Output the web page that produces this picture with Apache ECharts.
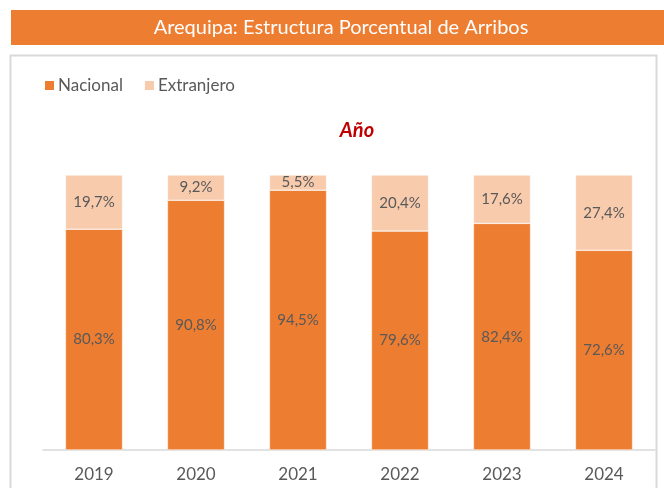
<!DOCTYPE html>
<html>
<head>
<meta charset="utf-8">
<script src="https://cdn.jsdelivr.net/npm/echarts@6/dist/echarts.min.js"></script>
<style>
  html, body { margin: 0; padding: 0; background: #fff; }
  #chart { width: 664px; height: 488px; }
</style>
</head>
<body>
<div id="chart"></div>
<script>
const years = ['2019', '2020', '2021', '2022', '2023', '2024'];
const nacional = [80.3, 90.8, 94.5, 79.6, 82.4, 72.6];
const extranjero = [19.7, 9.2, 5.5, 20.4, 17.6, 27.4];

const font = 'Lato, "Open Sans", sans-serif';
const textColor = '#595959';
const fmt = (p) => p.value.toFixed(1).replace('.', ',') + '%';

const chart = echarts.init(document.getElementById('chart'));
chart.setOption({
  animation: false,
  graphic: [
    { type: 'rect', shape: { x: 11, y: 10, width: 653, height: 35 }, style: { fill: '#ED7D31' }, z: -1 },
    { type: 'rect', shape: { x: 10.5, y: 55.5, width: 646, height: 450 }, style: { fill: 'none', stroke: '#D9D9D9', lineWidth: 2 }, z: -1 }
  ],
  title: [
    {
      text: 'Arequipa: Estructura Porcentual de Arribos',
      left: 336, top: 13, textAlign: 'center',
      textStyle: { color: '#fff', fontSize: 20, fontWeight: 'normal', fontFamily: font }
    },
    {
      text: 'Año',
      left: 352, top: 116, textAlign: 'center',
      textStyle: { color: '#C00000', fontSize: 20, fontWeight: 'bold', fontStyle: 'italic', fontFamily: font }
    }
  ],
  legend: {
    left: 38, top: 72,
    itemWidth: 11, itemHeight: 11, itemGap: 20,
    icon: 'rect',
    textStyle: { color: textColor, fontSize: 17, fontFamily: font, padding: [0, 0, 0, -2] },
    data: ['Nacional', 'Extranjero']
  },
  grid: { left: 43, right: 9, top: 175, bottom: 38, containLabel: false },
  xAxis: {
    type: 'category',
    data: years,
    axisLine: { lineStyle: { color: '#D9D9D9', width: 1.5 } },
    axisTick: { show: false },
    axisLabel: { color: textColor, fontSize: 17, fontFamily: font, margin: 16 }
  },
  yAxis: {
    type: 'value', min: 0, max: 100, show: false,
    splitLine: { show: false }
  },
  series: [
    {
      name: 'Nacional', type: 'bar', stack: 'total', data: nacional,
      barWidth: '56%',
      itemStyle: { color: '#ED7D31', borderColor: '#fff', borderWidth: 0.5 },
      label: { show: true, position: 'inside', formatter: fmt, color: textColor, fontSize: 15, fontFamily: font }
    },
    {
      name: 'Extranjero', type: 'bar', stack: 'total', data: extranjero,
      barWidth: '56%',
      itemStyle: { color: '#F8CBAD', borderColor: '#fff', borderWidth: 0.5 },
      label: { show: true, position: 'inside', formatter: fmt, color: textColor, fontSize: 15, fontFamily: font }
    }
  ]
});
</script>
</body>
</html>
